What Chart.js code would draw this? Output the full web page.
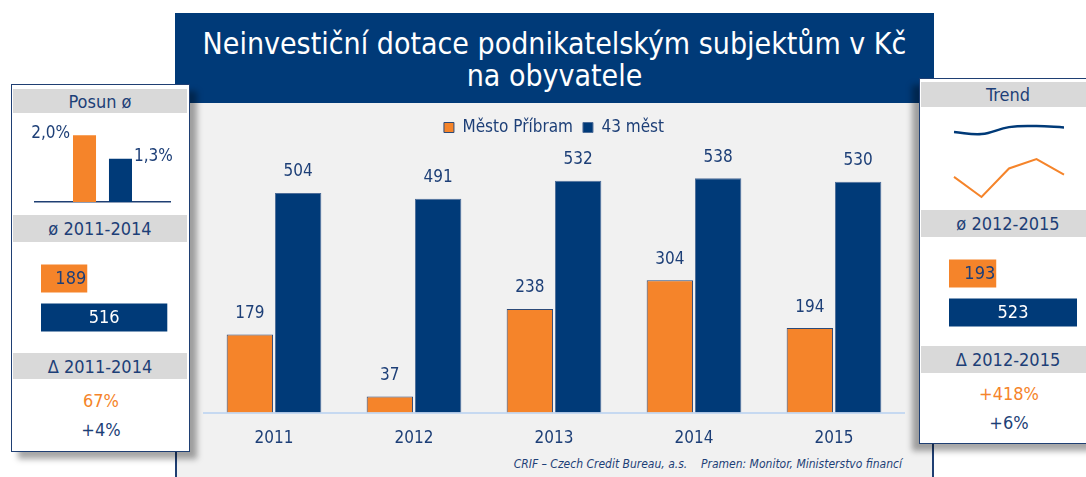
<!DOCTYPE html>
<html>
<head>
<meta charset="utf-8">
<script src="https://cdn.jsdelivr.net/npm/chart.js@4.4.0/dist/chart.umd.min.js"></script>
<style>
  html, body { margin: 0; padding: 0; }
  body {
    width: 1086px; height: 477px; position: relative; overflow: hidden; background: #fff;
    font-family: "DejaVu Sans Condensed", "DejaVu Sans", sans-serif; color: #1d3f77;
  }
  .abs { position: absolute; }
  #panel { left: 175px; top: 100px; width: 755px; height: 377px; background: #f1f1f1;
    border-left: 2px solid #1f3f73; border-right: 2px solid #1f3f73; }
  #head { left: 175px; top: 13px; width: 759px; height: 90px; background: #003a78; color: #fff;
    display: flex; align-items: center; justify-content: center; text-align: center;
    font-size: 30px; line-height: 32px; padding-top: 3px; box-sizing: border-box; }
  .card { background: #fff; border: 1px solid #1f3f73; }
  #leftCard { left: 11px; top: 84px; width: 177px; height: 366px; box-shadow: 7px 7px 6px rgba(0,0,0,0.35); }
  #rightCard { left: 919px; top: 78px; width: 178px; height: 364px; box-shadow: -7px 7px 6px rgba(0,0,0,0.35); }
  .hdr { position: absolute; left: 1px; width: 174px; background: #d9d9d9; font-size: 18px;
    display: flex; align-items: center; justify-content: center; }
  .delta { position: absolute; left: 0; width: 178px; text-align: center; font-size: 18px; line-height: 20px; }
  .orange { color: #f5842a; }
  #footer { right: 184px; top: 457px; font-size: 12px; font-style: italic; white-space: pre; }
  canvas { position: absolute; }
</style>
</head>
<body>
<div id="panel" class="abs"></div>
<div id="head" class="abs">Neinvestiční dotace podnikatelským subjektům v Kč<br>na obyvatele</div>

<div id="leftCard" class="abs card">
  <div class="hdr" style="top:4px;height:24px;">Posun ø</div>
  <div class="hdr" style="top:130px;height:27px;">ø 2011-2014</div>
  <div class="hdr" style="top:268px;height:26px;">Δ 2011-2014</div>
  <div class="delta orange" id="dl0" style="top:306px;"></div>
  <div class="delta" id="dl1" style="top:335px;"></div>
</div>

<div id="rightCard" class="abs card">
  <div class="hdr" style="top:3px;height:25px;">Trend</div>
  <div class="hdr" style="top:131px;height:27px;">ø 2012-2015</div>
  <div class="hdr" style="top:267px;height:27px;">Δ 2012-2015</div>
  <div class="delta orange" id="dr0" style="top:305px;"></div>
  <div class="delta" id="dr1" style="top:334px;"></div>
</div>

<div id="footer" class="abs">CRIF – Czech Credit Bureau, a.s.    Pramen: Monitor, Ministerstvo financí</div>

<canvas id="mainChart" width="720" height="348" style="left:195px;top:109px;"></canvas>
<canvas id="posunChart" width="160" height="95" style="left:20px;top:120px;"></canvas>
<canvas id="avgLeftChart" width="140" height="78" style="left:41px;top:259px;"></canvas>
<canvas id="avgRightChart" width="140" height="78" style="left:949px;top:254px;"></canvas>
<canvas id="trendChart" width="130" height="90" style="left:944px;top:115px;"></canvas>

<script>
const years = ["2011", "2012", "2013", "2014", "2015"];
const seriesNames = ["Město Příbram", "43 měst"];
const pribram = [179, 37, 238, 304, 194];
const mest43 = [504, 491, 532, 538, 530];

const posun = [2.0, 1.3];
const posunLabels = ["2,0%", "1,3%"];
const avgLeft = [189, 516];
const avgRight = [193, 523];
const deltaLeft = ["67%", "+4%"];
const deltaRight = ["+418%", "+6%"];

const orange = "#f5842a";
const navy = "#003a78";
const textNavy = "#1d3f77";
const fontFamily = '"DejaVu Sans Condensed", "DejaVu Sans", sans-serif';

Chart.defaults.font.family = fontFamily;
Chart.defaults.color = textNavy;
Chart.defaults.animation = false;
Chart.defaults.responsive = false;
Chart.defaults.plugins.tooltip.enabled = false;

document.getElementById("dl0").textContent = deltaLeft[0];
document.getElementById("dl1").textContent = deltaLeft[1];
document.getElementById("dr0").textContent = deltaRight[0];
document.getElementById("dr1").textContent = deltaRight[1];

// values above the bars of the main chart
const barValueLabels = {
  id: "barValueLabels",
  afterDatasetsDraw(chart) {
    const ctx = chart.ctx;
    ctx.save();
    ctx.font = "17px " + fontFamily;
    ctx.fillStyle = textNavy;
    ctx.textAlign = "center";
    ctx.textBaseline = "middle";
    chart.data.datasets.forEach((ds, i) => {
      chart.getDatasetMeta(i).data.forEach((bar, j) => {
        ctx.fillText(ds.data[j], bar.x, bar.y - 21);
      });
    });
    ctx.restore();
  }
};

new Chart(document.getElementById("mainChart"), {
  type: "bar",
  data: {
    labels: years,
    datasets: [
      { label: seriesNames[0], data: pribram, backgroundColor: orange, borderColor: "#2c4a78", borderWidth: 1 },
      { label: seriesNames[1], data: mest43, backgroundColor: navy, borderColor: "#4d6d99", borderWidth: 1 }
    ]
  },
  options: {
    categoryPercentage: 0.69,
    barPercentage: 0.96,
    layout: { padding: { left: 9, right: 11, bottom: 0 } },
    scales: {
      x: {
        grid: { display: false },
        border: { color: "#c6d9f1", width: 2 },
        ticks: { font: { size: 17 }, color: textNavy, padding: 8 }
      },
      y: { display: false, min: 0, max: 612 }
    },
    plugins: {
      legend: {
        position: "top",
        labels: { boxWidth: 10, boxHeight: 10, padding: 10, font: { size: 17 }, color: textNavy }
      }
    }
  },
  plugins: [barValueLabels]
});

// Posun ø: two bars with labels beside them
const sideLabels = {
  id: "sideLabels",
  afterDatasetsDraw(chart) {
    const ctx = chart.ctx;
    ctx.save();
    ctx.font = "17px " + fontFamily;
    ctx.fillStyle = textNavy;
    ctx.textBaseline = "middle";
    const b0 = chart.getDatasetMeta(0).data[0];
    const b1 = chart.getDatasetMeta(1).data[0];
    ctx.textAlign = "right";
    ctx.fillText(posunLabels[0], b0.x - b0.width / 2 - 3, b0.y - 2);
    ctx.textAlign = "left";
    ctx.fillText(posunLabels[1], b1.x + b1.width / 2 + 2, b1.y - 2);
    ctx.restore();
  }
};

new Chart(document.getElementById("posunChart"), {
  type: "bar",
  data: {
    labels: [""],
    datasets: [
      { data: [posun[0]], backgroundColor: orange },
      { data: [posun[1]], backgroundColor: navy }
    ]
  },
  options: {
    categoryPercentage: 0.533,
    barPercentage: 0.64,
    layout: { padding: { left: 15, right: 10, top: 0, bottom: 5 } },
    scales: {
      x: { grid: { display: false }, ticks: { display: false }, border: { color: "#1f3f73", width: 1.5 } },
      y: { display: false, min: 0, max: 2.46 }
    },
    plugins: { legend: { display: false } }
  },
  plugins: [sideLabels]
});

// averages as horizontal bars
const inBarLabels = {
  id: "inBarLabels",
  afterDatasetsDraw(chart) {
    const ctx = chart.ctx;
    ctx.save();
    ctx.font = "18px " + fontFamily;
    ctx.textBaseline = "middle";
    const data = chart.data.datasets[0].data;
    chart.getDatasetMeta(0).data.forEach((bar, j) => {
      if (j === 0) {
        ctx.fillStyle = textNavy;
        ctx.textAlign = "right";
        ctx.fillText(data[j], bar.x - 1, bar.y + 1);
      } else {
        ctx.fillStyle = "#fff";
        ctx.textAlign = "center";
        ctx.fillText(data[j], (bar.base + bar.x) / 2, bar.y + 1);
      }
    });
    ctx.restore();
  }
};

function avgChart(id, values) {
  return new Chart(document.getElementById(id), {
    type: "bar",
    data: {
      labels: seriesNames,
      datasets: [{ data: values, backgroundColor: [orange, navy] }]
    },
    options: {
      indexAxis: "y",
      categoryPercentage: 1,
      barPercentage: 0.718,
      scales: {
        x: { display: false, min: 0, max: 572 },
        y: { display: false }
      },
      plugins: { legend: { display: false } }
    },
    plugins: [inBarLabels]
  });
}
avgChart("avgLeftChart", avgLeft);
avgChart("avgRightChart", avgRight);

// trend sparklines
new Chart(document.getElementById("trendChart"), {
  type: "line",
  data: {
    labels: years,
    datasets: [
      { data: mest43, borderColor: navy, borderWidth: 2.5, tension: 0.4, pointRadius: 0, yAxisID: "y2" },
      { data: pribram, borderColor: orange, borderWidth: 2, tension: 0, pointRadius: 0, yAxisID: "y" }
    ]
  },
  options: {
    layout: { padding: { left: 10, right: 10, top: 5, bottom: 5 } },
    scales: {
      x: { display: false, offset: false },
      y: { display: false, min: 16, max: 579 },
      y2: { display: false, min: 103, max: 574 }
    },
    plugins: { legend: { display: false } }
  }
});
</script>
</body>
</html>
